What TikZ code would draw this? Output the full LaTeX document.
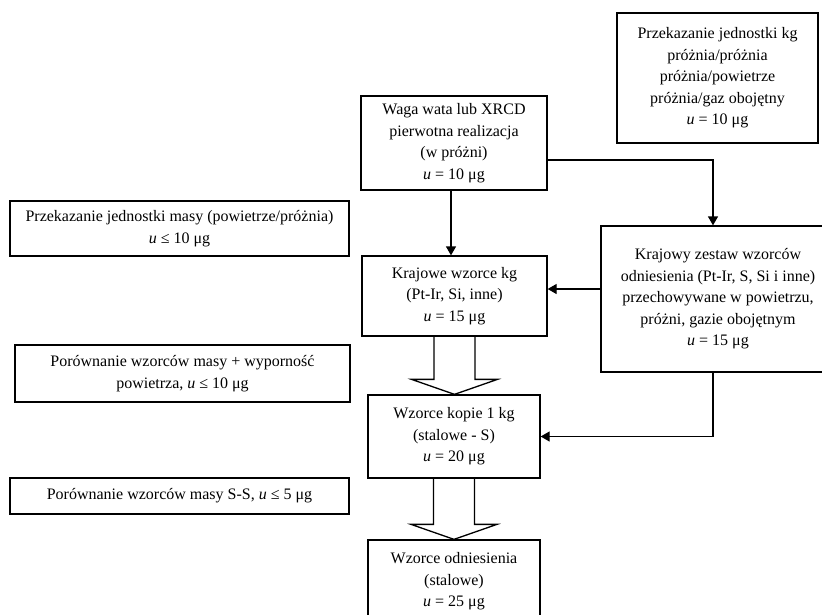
\documentclass[tikz,border=0pt]{standalone}
\usepackage{fontspec}
\setmainfont{Liberation Serif}
\usetikzlibrary{arrows.meta,calc}
\tikzset{
    every path/.style={
	line width=1.3pt,
    },
    block/.style={
	anchor=center,
	rectangle,
	draw=black,
	line width=1.3pt,
	align=center,
	inner sep=2pt,
	font=\fontsize{16}{21.5}\selectfont
    },
    remark/.style={
	block,
    },
}
\newcommand\hollowarrow[2]{%
    \draw let \p1=(#1.south), \p2=(#2.north) in
	(\x1-20.5pt,\y1) -- (\x1-20.5pt,\y2+15pt) -- (\x1-43pt,\y2+15pt)
	-- (\x1,\y2) -- (\x1+43pt,\y2+15pt) -- (\x1+20.5pt,\y2+15pt)
	-- (\x1+20.5pt,\y1);}

\begin{document}
\begin{tikzpicture}[x=1pt,y=-1pt,>={Triangle[length=9pt,width=10pt]}]

    \useasboundingbox (0,0) rectangle (822,614);

    \node[block, minimum width=201pt, minimum height=130pt] (TRANSFER) at (717.5,78) {%
	Przekazanie jednostki kg\\
	próżnia/próżnia\\
	próżnia/powietrze\\
	próżnia/gaz obojętny\\
	\textit{u} = 10 μg};

    \node[block, minimum width=186pt, minimum height=94pt] (WATT) at (454,143) {%
	Waga wata lub XRCD\\
	pierwotna realizacja\\
	(w próżni)\\
	\textit{u} = 10 μg};

    \node[remark, minimum width=339pt, minimum height=55pt] (AIRVAC) at (179.5,228.5) {%
	Przekazanie jednostki masy (powietrze/próżnia)\\
	\textit{u} ≤ 10 μg};

    \node[block, minimum width=234pt, minimum height=146pt] (REFSET) at (718,299) {%
	Krajowy zestaw wzorców\\
	odniesienia (Pt-Ir, S, Si i inne)\\
	przechowywane w powietrzu,\\
	próżni, gazie obojętnym\\
	\textit{u} = 15 μg};

    \node[block, minimum width=185pt, minimum height=80pt] (NATIONAL) at (454.5,296) {%
	Krajowe wzorce kg\\
	(Pt-Ir, Si, inne)\\
	\textit{u} = 15 μg};

    \node[remark, minimum width=335pt, minimum height=57pt] (BUOY) at (182.5,373.5) {%
	Porównanie wzorców masy + wyporność\\
	powietrza, \textit{u} ≤ 10 μg};

    \node[block, minimum width=172pt, minimum height=83pt] (COPIES) at (454,436.5) {%
	Wzorce kopie 1 kg\\
	(stalowe - S)\\
	\textit{u} = 20 μg};

    \node[remark, minimum width=339pt, minimum height=36pt] (STEEL) at (179.5,496) {%
	Porównanie wzorców masy S-S, \textit{u} ≤ 5 μg};

    \node[block, minimum width=172pt, minimum height=83pt] (REFERENCE) at (454,581.5) {%
	Wzorce odniesienia\\
	(stalowe)\\
	\textit{u} = 25 μg};

    \draw[->] ([xshift=-3pt]WATT.south) -- ([xshift=-3pt]WATT.south |- NATIONAL.north);
    \draw[->] ([yshift=-17pt]WATT.east) -| ([xshift=-5pt]REFSET.north);
    \draw[->] ([yshift=7pt]NATIONAL.east -| REFSET.west) -- ([yshift=7pt]NATIONAL.east);
    \draw[->] ([xshift=-5pt]REFSET.south) |- (COPIES.east);

    \hollowarrow{NATIONAL}{COPIES}
    \hollowarrow{COPIES}{REFERENCE}
\end{tikzpicture}
\end{document}
